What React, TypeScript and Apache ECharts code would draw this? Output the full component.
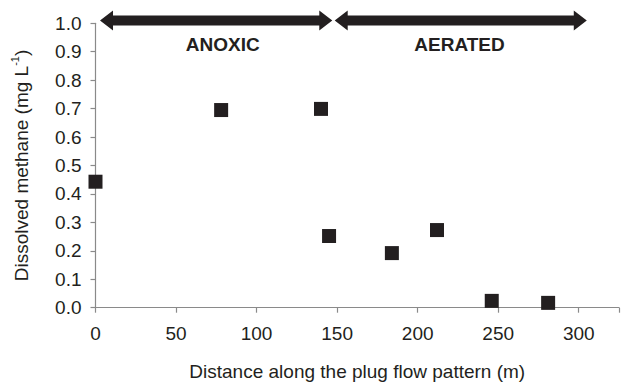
import React, { useEffect, useRef } from "react";
import * as echarts from "echarts";

const distance = [0, 78, 140, 145, 184, 212, 246, 281];
const methane = [0.443, 0.695, 0.699, 0.252, 0.192, 0.273, 0.024, 0.017];
const xTickValues = [0, 50, 100, 150, 200, 250, 300];
const zoneLabels = ["ANOXIC", "AERATED"];
const zoneStart = [2.8, 148.5];
const zoneEnd = [147, 305];
const zoneLabelX = [79, 226];
const arrowLevel = 1.01;
const zoneLabelLevel = 0.924;

const FONT = "'Liberation Sans', Arial, Helvetica, sans-serif";
const INK = "#231f20";
const AXIS = "#8a8a8a";

export default function App() {
  const ref = useRef<HTMLDivElement>(null);
  useEffect(() => {
    if (!ref.current) return;
    const chart = echarts.init(ref.current, null, { renderer: "svg" });
    const points = distance.map((d, i) => [d, methane[i]]);
    chart.setOption({
      animation: false,
      textStyle: { fontFamily: FONT },
      grid: { left: 95.5, right: 0, top: 23.3, bottom: 78.3, containLabel: false },
      xAxis: {
        type: "value",
        min: 0,
        max: 325,
        interval: 50,
        splitLine: { show: false },
        axisLine: { lineStyle: { color: AXIS, width: 1.2 } },
        axisTick: { show: true, length: 5, lineStyle: { color: AXIS, width: 1.2 } },
        axisLabel: {
          color: INK,
          fontSize: 19,
          fontFamily: FONT,
          margin: 16,
          formatter: (v: number) => (xTickValues.includes(v) ? String(v) : ""),
        },
        name: "Distance along the plug flow pattern (m)",
        nameLocation: "middle",
        nameGap: 54,
        nameTextStyle: { color: INK, fontSize: 19, fontFamily: FONT },
      },
      yAxis: {
        type: "value",
        min: 0,
        max: 1,
        interval: 0.1,
        splitLine: { show: false },
        axisLine: { show: true, lineStyle: { color: AXIS, width: 1.2 } },
        axisTick: { show: true, length: 5, lineStyle: { color: AXIS, width: 1.2 } },
        axisLabel: {
          color: INK,
          fontSize: 19,
          fontFamily: FONT,
          margin: 14,
          formatter: (v: number) => v.toFixed(1),
        },
        name: "Dissolved methane (mg L{sup|-1})",
        nameLocation: "middle",
        nameRotate: 90,
        nameGap: 62,
        nameTextStyle: {
          color: INK,
          fontSize: 19,
          fontFamily: FONT,
          lineHeight: 24,
          rich: {
            sup: { fontSize: 11, color: INK, fontFamily: FONT, verticalAlign: "top", lineHeight: 24 },
          },
        },
      },
      series: [
        {
          type: "scatter",
          data: points,
          symbol: "rect",
          symbolSize: 14,
          clip: false,
          itemStyle: { color: INK, opacity: 1 },
          z: 5,
        },
      ],
    });

    const px = (x: number, y: number) => chart.convertToPixel({ gridIndex: 0 }, [x, y]) as number[];
    const graphics: any[] = [];
    const shaft = 5;
    const headH = 10;
    const headL = 13;
    zoneLabels.forEach((label, i) => {
      const [x1, yc] = px(zoneStart[i], arrowLevel);
      const [x2] = px(zoneEnd[i], arrowLevel);
      graphics.push({
        type: "polygon",
        shape: {
          points: [
            [x1, yc],
            [x1 + headL, yc - headH],
            [x1 + headL, yc - shaft],
            [x2 - headL, yc - shaft],
            [x2 - headL, yc - headH],
            [x2, yc],
            [x2 - headL, yc + headH],
            [x2 - headL, yc + shaft],
            [x1 + headL, yc + shaft],
            [x1 + headL, yc + headH],
          ],
        },
        style: { fill: INK },
        z: 10,
      });
      const [lx, ly] = px(zoneLabelX[i], zoneLabelLevel);
      graphics.push({
        type: "text",
        x: lx,
        y: ly,
        style: {
          text: label,
          fill: INK,
          fontSize: 19,
          fontWeight: "bold",
          fontFamily: FONT,
          align: "center",
          verticalAlign: "middle",
        },
        z: 10,
      });
    });
    chart.setOption({ graphic: graphics });
    return () => chart.dispose();
  }, []);
  return (
    <div
      ref={ref}
      style={{ position: "fixed", left: 0, top: 0, width: 622, height: 386, background: "#fff" }}
    />
  );
}
